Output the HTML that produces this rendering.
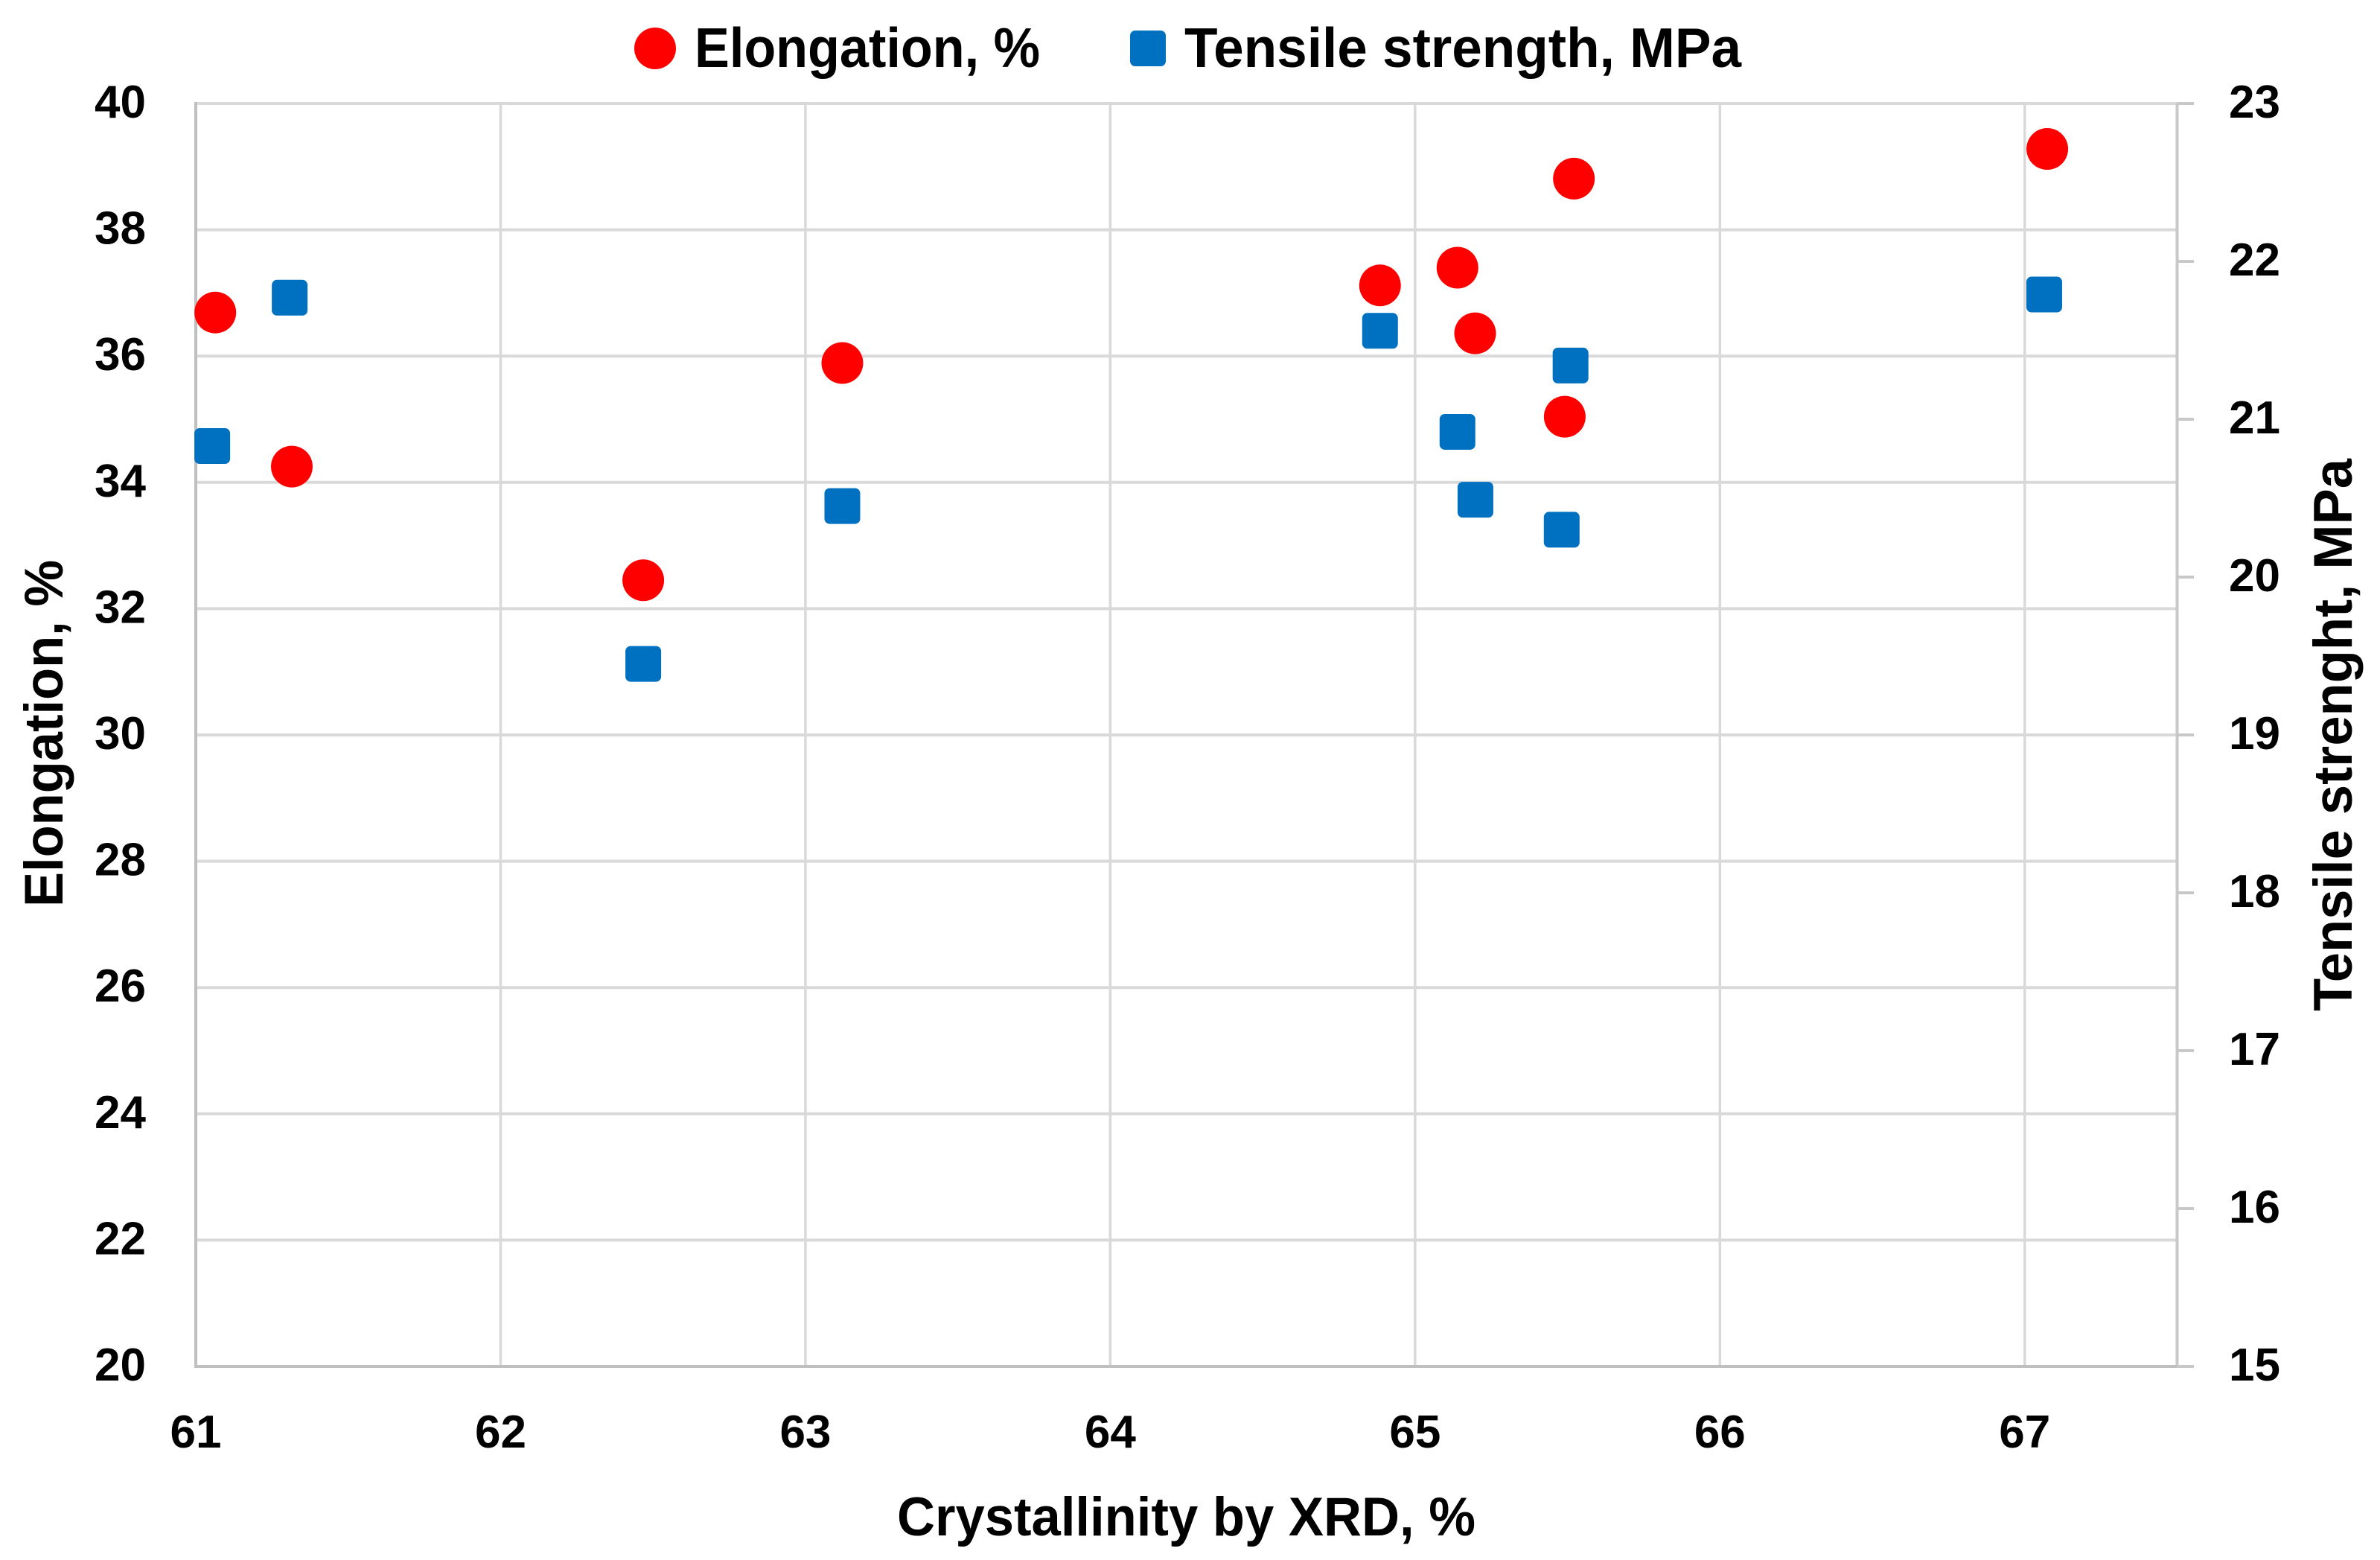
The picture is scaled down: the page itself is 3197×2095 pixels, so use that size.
<!DOCTYPE html>
<html lang="en">
<head>
<meta charset="utf-8">
<title>Elongation and tensile strength vs crystallinity</title>
<style>
html,body{margin:0;padding:0;background:#fff;}
svg{display:block;}
text{font-family:"Liberation Sans",sans-serif;font-weight:700;fill:#000;}
</style>
</head>
<body>
<svg id="chart" xmlns="http://www.w3.org/2000/svg" width="3197" height="2095" viewBox="0 0 3197 2095">
  <rect x="0" y="0" width="3197" height="2095" fill="#ffffff"/>
  <g id="grid"></g>
  <g id="axes"></g>
  <g id="labels"></g>
  <g id="seriesElongation"></g>
  <g id="seriesTensile"></g>

  <g>
    <g>
      <circle cx="880" cy="65" r="28" fill="#ff0000"/>
      <text x="933" y="90" font-size="75" textLength="464" lengthAdjust="spacingAndGlyphs">Elongation, %</text>
    </g>
    <g>
      <rect x="1518" y="41" width="48" height="48" rx="7" fill="#0070c0"/>
      <text x="1591" y="90" font-size="75" textLength="748" lengthAdjust="spacingAndGlyphs">Tensile strength, MPa</text>
    </g>
  </g>

  <text x="1205" y="2062" font-size="73" textLength="777" lengthAdjust="spacingAndGlyphs">Crystallinity by XRD, %</text>
  <text transform="translate(84,1218) rotate(-90)" font-size="73" textLength="466" lengthAdjust="spacingAndGlyphs">Elongation, %</text>
  <text transform="translate(3159,1358) rotate(-90)" font-size="73" textLength="742" lengthAdjust="spacingAndGlyphs">Tensile strenght, MPa</text>
</svg>

<script>
// Chart data
const xTicks = [61, 62, 63, 64, 65, 66, 67];
const leftTicks = [20, 22, 24, 26, 28, 30, 32, 34, 36, 38, 40];
const rightTicks = [15, 16, 17, 18, 19, 20, 21, 22, 23];
const elongationX = [61.064, 61.315, 62.468, 63.121, 64.885, 65.139, 65.197, 65.491, 65.521, 67.074];
const elongationY = [36.69, 34.25, 32.45, 35.89, 37.12, 37.40, 36.36, 35.04, 38.81, 39.28];
const tensileX = [61.054, 61.308, 62.468, 63.121, 64.885, 65.139, 65.198, 65.481, 65.510, 67.064];
const tensileY = [20.83, 21.77, 19.45, 20.45, 21.56, 20.92, 20.49, 20.30, 21.34, 21.79];

// Axis functions
const xMin = 61, xMax = 67.5;
const leftMin = 20, leftMax = 40;
const rightMin = 15, rightMax = 23;
const plotLeft = 263, plotRight = 2924.5, plotTop = 139, plotBottom = 1835;
function xScale(v) { return plotLeft + (v - xMin) / (xMax - xMin) * (plotRight - plotLeft); }
function yLeft(v) { return plotBottom - (v - leftMin) / (leftMax - leftMin) * (plotBottom - plotTop); }
function yRight(v) { return plotBottom - (v - rightMin) / (rightMax - rightMin) * (plotBottom - plotTop); }

const NS = 'http://www.w3.org/2000/svg';
const gridGroup = document.getElementById('grid');
const axesGroup = document.getElementById('axes');
const labelGroup = document.getElementById('labels');
const elongationGroup = document.getElementById('seriesElongation');
const tensileGroup = document.getElementById('seriesTensile');

function makeLine(x1, y1, x2, y2, color, width) {
  const l = document.createElementNS(NS, 'line');
  l.setAttribute('x1', x1);
  l.setAttribute('y1', y1);
  l.setAttribute('x2', x2);
  l.setAttribute('y2', y2);
  l.setAttribute('stroke', color);
  l.setAttribute('stroke-width', width);
  return l;
}
function makeLabel(str, x, y, anchor) {
  const t = document.createElementNS(NS, 'text');
  t.setAttribute('x', x);
  t.setAttribute('y', y);
  t.setAttribute('font-size', 62);
  t.setAttribute('text-anchor', anchor);
  t.textContent = str;
  return t;
}

// Gridlines and labels
leftTicks.forEach(function (v) {
  if (v !== leftMin) {
    const g = makeLine(plotLeft, yLeft(v), plotRight, yLeft(v), '#d9d9d9', 4);
    
    
    gridGroup.appendChild(g);
  }
  const t = makeLabel(String(v), 196, yLeft(v) + 19, 'end');
  
  
  labelGroup.appendChild(t);
});
xTicks.forEach(function (v) {
  if (v !== xMin) {
    const g = makeLine(xScale(v), plotTop, xScale(v), plotBottom, '#d9d9d9', 3.5);
    
    
    gridGroup.appendChild(g);
  }
  const t = makeLabel(String(v), xScale(v), 1944, 'middle');
  
  
  labelGroup.appendChild(t);
});
rightTicks.forEach(function (v) {
  const tick = makeLine(plotRight, yRight(v), 2947, yRight(v), '#c8c8c8', 4);
  
  
  axesGroup.appendChild(tick);
  const t = makeLabel(String(v), 2994, yRight(v) + 19, 'start');
  
  
  labelGroup.appendChild(t);
});

// Axis lines
const leftAxis = makeLine(plotLeft, plotTop - 2, plotLeft, plotBottom + 2, '#bfbfbf', 4);


axesGroup.appendChild(leftAxis);
const rightAxis = makeLine(plotRight, plotTop, plotRight, plotBottom, '#c8c8c8', 4);


axesGroup.appendChild(rightAxis);
const bottomAxis = makeLine(plotLeft, plotBottom, plotRight, plotBottom, '#bfbfbf', 4);


axesGroup.appendChild(bottomAxis);

// Series
elongationX.forEach(function (x, i) {
  const c = document.createElementNS(NS, 'circle');
  c.setAttribute('cx', xScale(x));
  c.setAttribute('cy', yLeft(elongationY[i]));
  c.setAttribute('r', 28);
  c.setAttribute('fill', '#ff0000');
  
  
  elongationGroup.appendChild(c);
});
tensileX.forEach(function (x, i) {
  const r = document.createElementNS(NS, 'rect');
  r.setAttribute('x', xScale(x) - 24);
  r.setAttribute('y', yRight(tensileY[i]) - 24);
  r.setAttribute('width', 48);
  r.setAttribute('height', 48);
  r.setAttribute('rx', 7);
  r.setAttribute('fill', '#0070c0');
  
  
  tensileGroup.appendChild(r);
});
</script>
</body>
</html>
